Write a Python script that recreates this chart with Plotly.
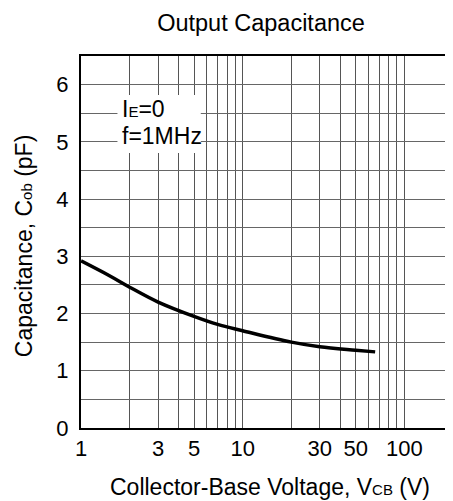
import plotly.graph_objects as go

# Data
vcb = [1, 1.5, 2, 3, 5, 7, 10, 20, 30, 50, 66]
cob = [2.92, 2.66, 2.46, 2.20, 1.95, 1.81, 1.70, 1.50, 1.42, 1.36, 1.33]

x_grid = [1, 2, 3, 4, 5, 6, 7, 8, 9, 10, 20, 30, 40, 50, 60, 70, 80, 90, 100, 200]
x_text = ["1", "", "3", "", "5", "", "", "", "", "10", "", "30", "", "50", "", "", "", "", "100", ""]
y_grid = [0, 0.5, 1, 1.5, 2, 2.5, 3, 3.5, 4, 4.5, 5, 5.5, 6, 6.5]
y_text = ["0", "", "1", "", "2", "", "3", "", "4", "", "5", "", "6", ""]

FONT = "Liberation Sans, Arial, sans-serif"
W, H = 445, 493  # page body adds an 8px offset
SUB = '<span style="font-size:15px">%s</span>'

fig = go.Figure()
fig.add_trace(go.Scatter(x=vcb, y=cob, mode="lines",
                         line=dict(color="black", width=3.5, shape="spline", smoothing=1.0),
                         showlegend=False, hoverinfo="skip"))

fig.update_layout(
    width=W, height=H,
    margin=dict(l=73, r=0, t=48, b=73),
    paper_bgcolor="white", plot_bgcolor="white",
    font=dict(family=FONT, size=22, color="black"),
    title=dict(text="Output Capacitance", x=(261 - 8) / W, xanchor="center",
               y=1 - (23 - 8) / H, yanchor="middle", font=dict(size=23.5)),
)
fig.update_xaxes(type="log", range=[0, 2.301], tickvals=x_grid, ticktext=x_text,
                 showgrid=True, gridcolor="#555", gridwidth=1.2,
                 showline=True, linecolor="black", linewidth=2, mirror=True,
                 ticks="", zeroline=False, tickfont=dict(size=22))
fig.update_yaxes(range=[0, 6.5], tickvals=y_grid, ticktext=y_text,
                 showgrid=True, gridcolor="#666", gridwidth=1.2,
                 showline=True, linecolor="black", linewidth=2, mirror=False,
                 ticks="", zeroline=False, tickfont=dict(size=22),
                 ticklabelstandoff=6)

# White box behind the condition labels
fig.add_shape(type="rect", xref="paper", yref="paper",
              x0=0.098, x1=0.322, y0=0.739, y1=0.895,
              fillcolor="white", line=dict(width=0), layer="above")

fig.add_annotation(text="I" + SUB % "E" + "=0", xref="paper", yref="paper",
                   x=0.105, y=0.858, xanchor="left", yanchor="middle",
                   showarrow=False, font=dict(size=23))
fig.add_annotation(text="f=1MHz", xref="paper", yref="paper",
                   x=0.105, y=0.785, xanchor="left", yanchor="middle",
                   showarrow=False, font=dict(size=23))

fig.add_annotation(text="Collector-Base Voltage, V" + SUB % "CB" + " (V)", xref="paper", yref="paper",
                   x=0.508, y=-0.1586, xanchor="center", yanchor="middle",
                   showarrow=False, font=dict(size=23))
fig.add_annotation(text="Capacitance, C" + SUB % "ob" + " (pF)", xref="paper", yref="paper",
                   x=-0.153, y=0.489, xanchor="center", yanchor="middle", textangle=-90,
                   showarrow=False, font=dict(size=23))

fig.write_html("out.html")
